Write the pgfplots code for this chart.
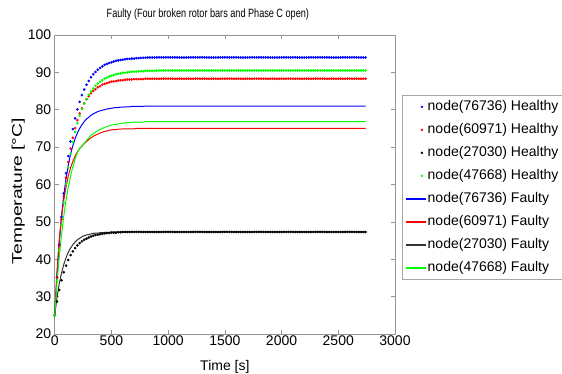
\documentclass[border=0pt]{standalone}
\usepackage{fontspec}
\setmainfont{Liberation Sans}
\usepackage{graphicx}
\usepackage{pgfplots}
\usepackage{pgfplotstable}
\pgfplotsset{compat=1.18}
\definecolor{mgreen}{RGB}{0,255,0}
\pgfplotsset{
  dotleg/.style={legend image code/.code={\fill[fill=#1] (16pt,0pt) circle (1pt);}},
  lineleg/.style={legend image code/.code={\draw[mark repeat=2,mark phase=2,##1] plot coordinates {(0pt,0pt) (10pt,0pt) (20pt,0pt)};}},
}
\pgfplotstableread{
t bH rH kH gH bF rF kF gF
0 25.0 25.0 25.0 25.0 25.0 25.0 25.0 25.0
20 35.2 35.1 28.7 34.3 35.8 36.5 29.7 33.5
40 43.9 43.6 31.8 42.4 44.5 45.0 33.4 40.6
60 51.3 50.7 34.4 49.2 51.5 51.2 36.3 46.5
80 57.6 56.7 36.5 55.1 57.1 55.8 38.6 51.6
100 63.0 61.8 38.3 60.2 61.6 59.4 40.4 55.8
120 67.6 66.0 39.8 64.5 65.2 62.3 41.9 59.3
140 71.5 69.6 41.1 68.2 68.1 64.5 43.0 62.3
160 74.8 72.5 42.1 71.4 70.4 66.2 43.9 64.8
180 77.7 75.1 43.0 74.1 72.3 67.6 44.6 66.8
200 80.1 77.2 43.7 76.4 73.8 68.7 45.2 68.5
220 82.1 79.0 44.3 78.4 75.0 69.6 45.6 69.7
240 83.9 80.4 44.8 80.2 76.0 70.3 46.0 70.2
260 85.4 81.7 45.2 81.6 76.8 70.9 46.3 71.0
280 86.7 82.8 45.5 82.9 77.5 71.5 46.5 71.8
300 87.7 83.6 45.8 84.0 78.0 72.0 46.6 72.5
320 88.7 84.4 46.1 84.9 78.5 72.5 46.8 73.1
340 89.5 85.0 46.3 85.7 78.9 72.9 46.9 73.6
360 90.1 85.5 46.5 86.4 79.2 73.2 47.0 74.0
380 90.7 86.0 46.6 87.0 79.5 73.5 47.0 74.4
400 91.2 86.3 46.7 87.5 79.7 73.8 47.1 74.7
420 91.6 86.7 46.8 87.9 79.9 74.0 47.1 75.0
440 92.0 86.9 46.9 88.3 80.0 74.2 47.2 75.3
460 92.3 87.1 47.0 88.6 80.2 74.3 47.2 75.5
480 92.5 87.3 47.0 88.9 80.3 74.5 47.2 75.7
500 92.7 87.5 47.1 89.1 80.4 74.6 47.3 75.9
520 92.9 87.6 47.1 89.3 80.5 74.7 47.3 76.0
540 93.1 87.7 47.1 89.5 80.6 74.7 47.3 76.1
560 93.2 87.8 47.2 89.6 80.6 74.8 47.3 76.2
580 93.3 87.9 47.2 89.7 80.7 74.8 47.3 76.3
600 93.4 87.9 47.3 89.9 80.7 74.9 47.3 76.4
620 93.5 88.0 47.3 89.9 80.8 74.9 47.3 76.5
640 93.6 88.1 47.3 90.0 80.8 74.9 47.3 76.5
660 93.6 88.1 47.3 90.1 80.8 74.9 47.3 76.6
680 93.7 88.1 47.3 90.2 80.9 74.9 47.3 76.6
700 93.7 88.2 47.3 90.2 80.9 74.9 47.3 76.7
720 93.8 88.2 47.3 90.2 80.9 75.0 47.3 76.7
740 93.8 88.2 47.3 90.3 80.9 75.0 47.3 76.7
760 93.9 88.2 47.3 90.3 80.9 75.0 47.3 76.7
780 93.9 88.2 47.3 90.3 80.9 75.0 47.3 76.7
800 93.9 88.3 47.3 90.4 81.0 75.0 47.3 76.8
820 94.0 88.3 47.3 90.4 81.0 75.0 47.3 76.8
840 94.0 88.3 47.3 90.4 81.0 75.0 47.3 76.8
860 94.0 88.3 47.3 90.4 81.0 75.0 47.3 76.8
880 94.0 88.3 47.3 90.4 81.0 75.0 47.3 76.8
900 94.0 88.3 47.3 90.5 81.0 75.0 47.3 76.8
920 94.0 88.3 47.3 90.5 81.0 75.0 47.3 76.8
940 94.0 88.3 47.3 90.5 81.0 75.0 47.3 76.8
960 94.0 88.3 47.3 90.5 81.0 75.0 47.3 76.8
980 94.0 88.3 47.3 90.5 81.0 75.0 47.3 76.8
1000 94.0 88.3 47.3 90.5 81.0 75.0 47.3 76.8
1020 94.0 88.3 47.3 90.5 81.0 75.0 47.3 76.8
1040 94.0 88.3 47.3 90.5 81.0 75.0 47.3 76.8
1060 94.0 88.3 47.3 90.5 81.0 75.0 47.3 76.8
1080 94.0 88.3 47.3 90.5 81.0 75.0 47.3 76.8
1100 94.0 88.3 47.3 90.5 81.0 75.0 47.3 76.8
1120 94.0 88.3 47.3 90.5 81.0 75.0 47.3 76.8
1140 94.0 88.3 47.3 90.5 81.0 75.0 47.3 76.8
1160 94.0 88.3 47.3 90.5 81.0 75.0 47.3 76.8
1180 94.0 88.3 47.3 90.5 81.0 75.0 47.3 76.8
1200 94.0 88.3 47.3 90.5 81.0 75.0 47.3 76.8
1220 94.0 88.3 47.3 90.5 81.0 75.0 47.3 76.8
1240 94.0 88.3 47.3 90.5 81.0 75.0 47.3 76.8
1260 94.0 88.3 47.3 90.5 81.0 75.0 47.3 76.8
1280 94.0 88.3 47.3 90.5 81.0 75.0 47.3 76.8
1300 94.0 88.3 47.3 90.5 81.0 75.0 47.3 76.8
1320 94.0 88.3 47.3 90.5 81.0 75.0 47.3 76.8
1340 94.0 88.3 47.3 90.5 81.0 75.0 47.3 76.8
1360 94.0 88.3 47.3 90.5 81.0 75.0 47.3 76.8
1380 94.0 88.3 47.3 90.5 81.0 75.0 47.3 76.8
1400 94.0 88.3 47.3 90.5 81.0 75.0 47.3 76.8
1420 94.0 88.3 47.3 90.5 81.0 75.0 47.3 76.8
1440 94.0 88.3 47.3 90.5 81.0 75.0 47.3 76.8
1460 94.0 88.3 47.3 90.5 81.0 75.0 47.3 76.8
1480 94.0 88.3 47.3 90.5 81.0 75.0 47.3 76.8
1500 94.0 88.3 47.3 90.5 81.0 75.0 47.3 76.8
1520 94.0 88.3 47.3 90.5 81.0 75.0 47.3 76.8
1540 94.0 88.3 47.3 90.5 81.0 75.0 47.3 76.8
1560 94.0 88.3 47.3 90.5 81.0 75.0 47.3 76.8
1580 94.0 88.3 47.3 90.5 81.0 75.0 47.3 76.8
1600 94.0 88.3 47.3 90.5 81.0 75.0 47.3 76.8
1620 94.0 88.3 47.3 90.5 81.0 75.0 47.3 76.8
1640 94.0 88.3 47.3 90.5 81.0 75.0 47.3 76.8
1660 94.0 88.3 47.3 90.5 81.0 75.0 47.3 76.8
1680 94.0 88.3 47.3 90.5 81.0 75.0 47.3 76.8
1700 94.0 88.3 47.3 90.5 81.0 75.0 47.3 76.8
1720 94.0 88.3 47.3 90.5 81.0 75.0 47.3 76.8
1740 94.0 88.3 47.3 90.5 81.0 75.0 47.3 76.8
1760 94.0 88.3 47.3 90.5 81.0 75.0 47.3 76.8
1780 94.0 88.3 47.3 90.5 81.0 75.0 47.3 76.8
1800 94.0 88.3 47.3 90.5 81.0 75.0 47.3 76.8
1820 94.0 88.3 47.3 90.5 81.0 75.0 47.3 76.8
1840 94.0 88.3 47.3 90.5 81.0 75.0 47.3 76.8
1860 94.0 88.3 47.3 90.5 81.0 75.0 47.3 76.8
1880 94.0 88.3 47.3 90.5 81.0 75.0 47.3 76.8
1900 94.0 88.3 47.3 90.5 81.0 75.0 47.3 76.8
1920 94.0 88.3 47.3 90.5 81.0 75.0 47.3 76.8
1940 94.0 88.3 47.3 90.5 81.0 75.0 47.3 76.8
1960 94.0 88.3 47.3 90.5 81.0 75.0 47.3 76.8
1980 94.0 88.3 47.3 90.5 81.0 75.0 47.3 76.8
2000 94.0 88.3 47.3 90.5 81.0 75.0 47.3 76.8
2020 94.0 88.3 47.3 90.5 81.0 75.0 47.3 76.8
2040 94.0 88.3 47.3 90.5 81.0 75.0 47.3 76.8
2060 94.0 88.3 47.3 90.5 81.0 75.0 47.3 76.8
2080 94.0 88.3 47.3 90.5 81.0 75.0 47.3 76.8
2100 94.0 88.3 47.3 90.5 81.0 75.0 47.3 76.8
2120 94.0 88.3 47.3 90.5 81.0 75.0 47.3 76.8
2140 94.0 88.3 47.3 90.5 81.0 75.0 47.3 76.8
2160 94.0 88.3 47.3 90.5 81.0 75.0 47.3 76.8
2180 94.0 88.3 47.3 90.5 81.0 75.0 47.3 76.8
2200 94.0 88.3 47.3 90.5 81.0 75.0 47.3 76.8
2220 94.0 88.3 47.3 90.5 81.0 75.0 47.3 76.8
2240 94.0 88.3 47.3 90.5 81.0 75.0 47.3 76.8
2260 94.0 88.3 47.3 90.5 81.0 75.0 47.3 76.8
2280 94.0 88.3 47.3 90.5 81.0 75.0 47.3 76.8
2300 94.0 88.3 47.3 90.5 81.0 75.0 47.3 76.8
2320 94.0 88.3 47.3 90.5 81.0 75.0 47.3 76.8
2340 94.0 88.3 47.3 90.5 81.0 75.0 47.3 76.8
2360 94.0 88.3 47.3 90.5 81.0 75.0 47.3 76.8
2380 94.0 88.3 47.3 90.5 81.0 75.0 47.3 76.8
2400 94.0 88.3 47.3 90.5 81.0 75.0 47.3 76.8
2420 94.0 88.3 47.3 90.5 81.0 75.0 47.3 76.8
2440 94.0 88.3 47.3 90.5 81.0 75.0 47.3 76.8
2460 94.0 88.3 47.3 90.5 81.0 75.0 47.3 76.8
2480 94.0 88.3 47.3 90.5 81.0 75.0 47.3 76.8
2500 94.0 88.3 47.3 90.5 81.0 75.0 47.3 76.8
2520 94.0 88.3 47.3 90.5 81.0 75.0 47.3 76.8
2540 94.0 88.3 47.3 90.5 81.0 75.0 47.3 76.8
2560 94.0 88.3 47.3 90.5 81.0 75.0 47.3 76.8
2580 94.0 88.3 47.3 90.5 81.0 75.0 47.3 76.8
2600 94.0 88.3 47.3 90.5 81.0 75.0 47.3 76.8
2620 94.0 88.3 47.3 90.5 81.0 75.0 47.3 76.8
2640 94.0 88.3 47.3 90.5 81.0 75.0 47.3 76.8
2660 94.0 88.3 47.3 90.5 81.0 75.0 47.3 76.8
2680 94.0 88.3 47.3 90.5 81.0 75.0 47.3 76.8
2700 94.0 88.3 47.3 90.5 81.0 75.0 47.3 76.8
2720 94.0 88.3 47.3 90.5 81.0 75.0 47.3 76.8
2740 94.0 88.3 47.3 90.5 81.0 75.0 47.3 76.8
}\data
\begin{document}
\begin{tikzpicture}
\useasboundingbox (-54.7pt,-40pt) rectangle (507.3pt,334pt);
\begin{axis}[
  scale only axis, width=340.3pt, height=299pt,
  xmin=0, xmax=3000, ymin=20, ymax=100,
  xtick={0,500,...,3000}, ytick={20,30,...,100},
  tick align=inside, major tick length=4pt,
  axis line style={draw=gray!85},
  every tick/.style={gray!85, line width=0.6pt},
  tick label style={font=\fontsize{14}{14}\selectfont},
  /pgf/number format/assume math mode=true,
  /pgf/number format/1000 sep={},
  xticklabel style={yshift=2pt},
  title={\scalebox{0.76}[1]{Faulty (Four broken rotor bars and Phase C open)}},
  title style={font=\fontsize{12}{12}\selectfont, at={(axis description cs:0.45,1.048)}, anchor=center},
  xlabel={Time [s]},
  xlabel style={font=\fontsize{14}{14}\selectfont, at={(axis description cs:0.5,-0.109)}, anchor=center},
  ylabel={\scalebox{1.38}[1]{Temperature [°C]}},
  ylabel style={font=\fontsize{14}{14}\selectfont, at={(axis description cs:-0.107,0.478)}, anchor=center},
  legend cell align=left,
  legend style={at={(axis description cs:1.0206,0.799)}, anchor=north west,
    draw=gray!70, font=\fontsize{14}{14}\selectfont,
    inner xsep=3pt, inner ysep=4pt, row sep=8pt,
    nodes={inner sep=1pt, text height=10pt, text depth=3pt}},
]
\addplot[only marks, mark=*, mark size=1.1pt, color=blue, dotleg=blue] table[x=t,y=bH]{\data};
\addlegendentry{node(76736) Healthy}
\addplot[only marks, mark=*, mark size=1.1pt, color=red, dotleg=red] table[x=t,y=rH]{\data};
\addlegendentry{node(60971) Healthy}
\addplot[only marks, mark=*, mark size=1.1pt, color=black, dotleg=black] table[x=t,y=kH]{\data};
\addlegendentry{node(27030) Healthy}
\addplot[only marks, mark=*, mark size=1.1pt, color=mgreen, dotleg=mgreen] table[x=t,y=gH]{\data};
\addlegendentry{node(47668) Healthy}
\addplot[mark=none, color=blue, line width=1pt, lineleg, legend image post style={line width=1.5pt}] table[x=t,y=bF]{\data};
\addlegendentry{node(76736) Faulty}
\addplot[mark=none, color=red, line width=1pt, lineleg, legend image post style={line width=1.5pt}] table[x=t,y=rF]{\data};
\addlegendentry{node(60971) Faulty}
\addplot[mark=none, color=black!80, line width=1pt, lineleg, legend image post style={line width=1.5pt}] table[x=t,y=kF]{\data};
\addlegendentry{node(27030) Faulty}
\addplot[mark=none, color=mgreen, line width=1pt, lineleg, legend image post style={line width=1.5pt}] table[x=t,y=gF]{\data};
\addlegendentry{node(47668) Faulty}
\end{axis}
\end{tikzpicture}
\end{document}
